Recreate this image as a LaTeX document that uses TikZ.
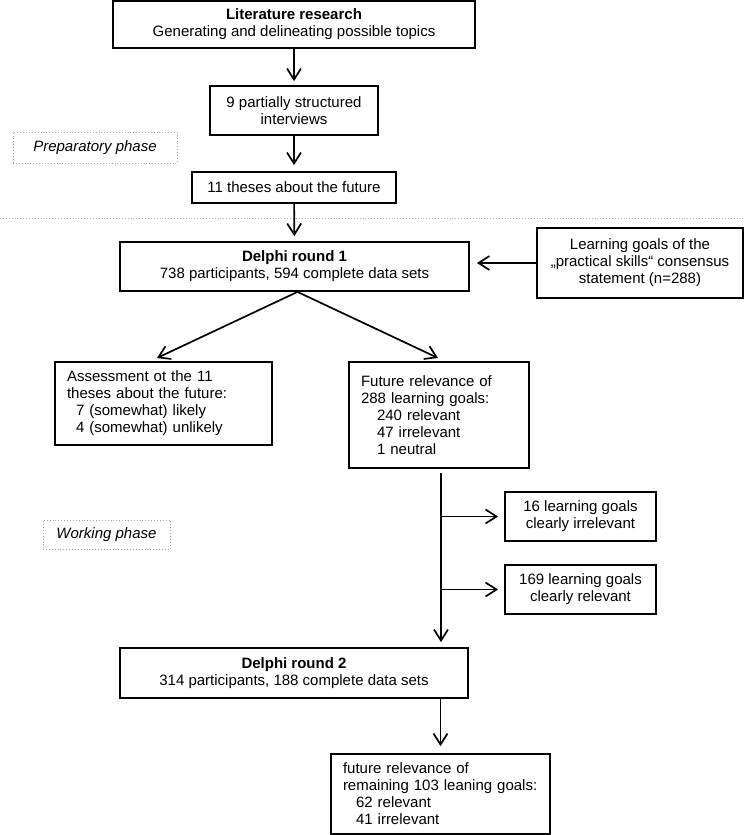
\documentclass[tikz,border=0pt]{standalone}
\usepackage{fontspec}
\setmainfont{Liberation Sans}
\usetikzlibrary{arrows.meta,calc}
\begin{document}
\begin{tikzpicture}[x=1pt,y=-1pt,
 box/.style={draw,line width=1.8pt,rectangle,inner sep=0pt,align=center,font=\fontsize{15}{17}\selectfont},
 lbox/.style={box,align=left,inner xsep=12pt},
 phase/.style={draw=gray!70,dotted,line width=0.9pt,rectangle,inner sep=0pt,font=\fontsize{15}{17}\selectfont\itshape},
 arr/.style={line width=1.7pt,-{Straight Barb[length=11pt,width=14pt,line width=1.7pt]}},
 sep/.style={draw=gray!60,dotted,line width=0.9pt}
]
\useasboundingbox (0,0) rectangle (745,835);

\node[box,minimum width=362,minimum height=47] (b1) at (294,24.5) {\textbf{Literature research}\\Generating and delineating possible topics};
\node[box,minimum width=168,minimum height=49] (b2) at (294,110.5) {9 partially structured\\interviews};
\node[box,minimum width=204,minimum height=31] (b3) at (294,187.5) {11 theses about the future};
\node[phase,minimum width=164,minimum height=31] (prep) at (95,147.5) {Preparatory phase};

\coordinate (sl) at (0,218);
\coordinate (sr) at (745,218);
\draw[sep] (sl) -- (sr);

\node[box,minimum width=349,minimum height=49] (d1) at (294.5,266.5) {\textbf{Delphi round 1}\\738 participants, 594 complete data sets};
\node[box,minimum width=206,minimum height=70] (rb) at (640,263) {Learning goals of the\\„practical skills“ consensus\\statement (n=288)};

\node[lbox,minimum width=217,minimum height=83,text width=193] (as) at (163.5,403.5) {Assessment ot the 11\\theses about the future:\\\hspace*{9pt}7 (somewhat) likely\\\hspace*{9pt}4 (somewhat) unlikely};
\node[lbox,minimum width=180,minimum height=106,text width=156] (fr) at (439,415) {Future relevance of\\288 learning goals:\\\hspace*{16pt}240 relevant\\\hspace*{16pt}47 irrelevant\\\hspace*{16pt}1 neutral};

\node[box,minimum width=151,minimum height=49] (b16) at (580.5,516.5) {16 learning goals\\clearly irrelevant};
\node[box,minimum width=151,minimum height=49] (b169) at (580.5,589.5) {169 learning goals\\clearly relevant};
\node[phase,minimum width=127,minimum height=29] (work) at (106.5,534.5) {Working phase};

\node[box,minimum width=348,minimum height=50] (d2) at (294,673) {\textbf{Delphi round 2}\\314 participants, 188 complete data sets};
\node[lbox,minimum width=219,minimum height=80,text width=195] (fin) at (440.5,794) {future relevance of\\remaining 103 leaning goals:\\\hspace*{13pt}62 relevant\\\hspace*{13pt}41 irrelevant};

% connectors
\draw[arr,shorten >=4pt] (b1) -- (b2);
\draw[arr,shorten >=6pt] (b2) -- (b3);
\draw[arr,shorten >=5pt] (b3) -- (d1);
\draw[arr,shorten >=7pt] (rb.west) -- (rb.west -| d1.east);

\coordinate (dl) at (157,358);
\coordinate (dr) at (438,358);
\draw[arr] ([xshift=3pt]d1.south) -- (dl);
\draw[arr] ([xshift=3pt]d1.south) -- (dr);

\coordinate (vt) at ([xshift=2pt]fr.south);
\draw[arr,shorten <=4pt,shorten >=5pt] (vt) -- (vt |- d2.north);
\draw[arr,shorten <=1pt,shorten >=6pt] (vt |- b16.west) -- (b16.west);
\draw[arr,shorten <=1pt,shorten >=6pt] (vt |- b169.west) -- (b169.west);
\draw[arr,shorten >=7pt] (fin.north |- d2.south) -- (fin.north);
\end{tikzpicture}
\end{document}
